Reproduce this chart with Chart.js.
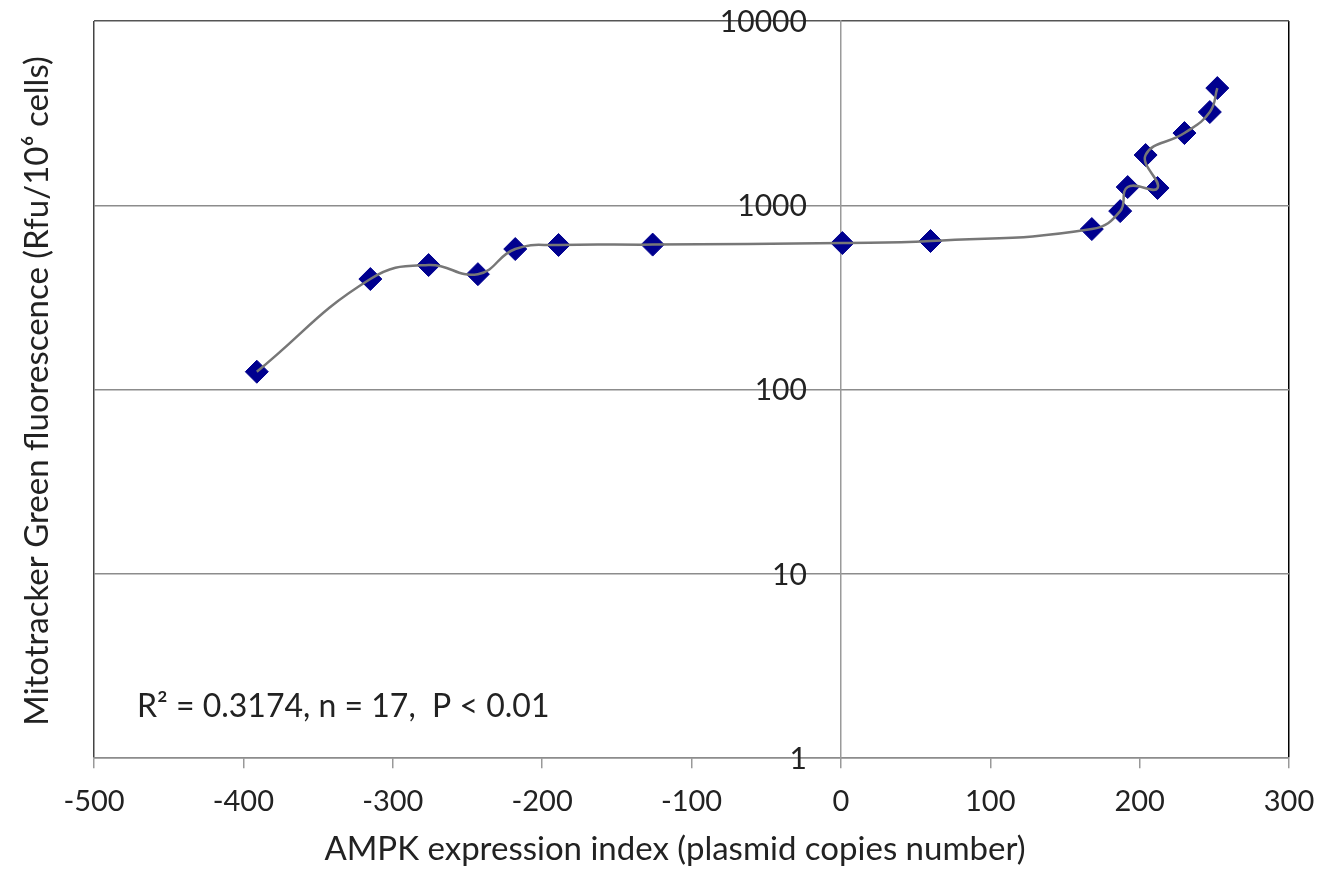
<!DOCTYPE html>
<html lang="en">
<head>
  <meta charset="UTF-8" />
  <title>Mitotracker Green vs AMPK expression</title>
  <script src="https://cdn.jsdelivr.net/npm/chart.js"></script>
  <style>
    html, body { margin: 0; padding: 0; background: #fff; }
    #wrap { width: 1327px; height: 873px; }
  </style>
</head>
<body>
  <div id="wrap"><canvas id="chart" width="1327" height="873"></canvas></div>

  <script>
    // AMPK expression index (plasmid copies number), in the order the curve runs
    const ampkIndex = [-391, -315, -276, -243, -218, -189, -126, 1, 60, 168, 187, 192, 212, 204, 230, 247, 252];
    // Mitotracker Green fluorescence (Rfu/10^6 cells)
    const fluorescence = [125, 398, 474, 423, 579, 609, 612, 624, 640, 743, 930, 1256, 1241, 1874, 2466, 3207, 4326];

    const xTicks = [-500, -400, -300, -200, -100, 0, 100, 200, 300];
    const yTicks = [1, 10, 100, 1000, 10000];

    const xTitle = 'AMPK expression index (plasmid copies number)';
    const yTitle = 'Mitotracker Green fluorescence (Rfu/10\u2076 cells)';
    const statText = 'R\u00b2 = 0.3174, n = 17,  P < 0.01';

    const FONT = 'Lato, "Open Sans", sans-serif';
    const TEXT = '#222';

    const points = ampkIndex.map((x, i) => ({ x: x, y: fluorescence[i] }));

    // y tick labels (sit left of the x = 0 axis), axis titles, stats line
    const extraText = {
      id: 'extraText',
      afterDraw(chart) {
        const c = chart.ctx;
        const area = chart.chartArea;
        const xs = chart.scales.x;
        const ys = chart.scales.y;

        c.save();
        c.fillStyle = TEXT;
        c.font = '30px ' + FONT;
        c.textAlign = 'right';
        c.textBaseline = 'middle';
        const axisX = xs.getPixelForValue(0);
        yTicks.forEach(v => c.fillText(String(v), axisX - 34, ys.getPixelForValue(v) + 1));
        c.restore();

        c.save();
        c.fillStyle = TEXT;
        c.font = '33px ' + FONT;
        c.textAlign = 'center';
        c.textBaseline = 'alphabetic';
        c.fillText(xTitle, 675, 860);
        c.restore();

        c.save();
        c.fillStyle = TEXT;
        c.font = '33px ' + FONT;
        c.textAlign = 'center';
        c.textBaseline = 'middle';
        c.translate(37, 391);
        c.rotate(-Math.PI / 2);
        c.fillText(yTitle, 0, 0);
        c.restore();

        c.save();
        c.fillStyle = TEXT;
        c.font = '32px ' + FONT;
        c.textAlign = 'left';
        c.textBaseline = 'alphabetic';
        c.fillText(statText, area.left + 43, area.bottom - 41);
        c.restore();
      }
    };

    const ctx = document.getElementById('chart').getContext('2d');
    new Chart(ctx, {
      type: 'scatter',
      data: {
        datasets: [
          {
            label: 'curve',
            data: points,
            showLine: true,
            borderColor: '#777777',
            borderWidth: 2.5,
            tension: 0.45,
            pointRadius: 0,
            order: 0
          },
          {
            label: 'samples',
            data: points,
            showLine: false,
            pointStyle: 'rectRot',
            pointRadius: 11.5,
            backgroundColor: '#00008f',
            borderColor: '#00008f',
            borderWidth: 1,
            order: 1
          }
        ]
      },
      options: {
        responsive: false,
        animation: false,
        layout: { padding: { left: 94, right: 38, top: 21, bottom: 38 } },
        plugins: {
          legend: { display: false },
          tooltip: { enabled: false }
        },
        scales: {
          x: {
            type: 'linear',
            min: -500,
            max: 300,
            afterBuildTicks: (s) => { s.ticks = xTicks.map(v => ({ value: v })); },
            afterFit: (s) => { s.paddingLeft = 0; s.paddingRight = 0; },
            grid: {
              drawOnChartArea: true,
              color: (c) => c.tick && c.tick.value === -500 ? '#444' : (c.tick && c.tick.value === 300 ? '#000' : 'rgba(0,0,0,0)'),
              lineWidth: 1.5,
              tickColor: '#999',
              tickLength: 10
            },
            border: { display: true, color: '#8c8c8c', width: 1.5 },
            ticks: {
              color: TEXT,
              font: { family: FONT, size: 29 },
              padding: 16
            }
          },
          y: {
            type: 'logarithmic',
            position: { x: 0 },
            min: 1,
            max: 10000,
            afterBuildTicks: (s) => { s.ticks = yTicks.map(v => ({ value: v })); },
            afterFit: (s) => { s.paddingTop = 0; s.paddingBottom = 0; },
            grid: {
              color: (c) => c.tick && c.tick.value === 10000 ? '#555' : '#8c8c8c',
              lineWidth: 1.5,
              drawTicks: false
            },
            border: { display: true, color: '#9a9a9a', width: 1.5 },
            ticks: { display: false }
          }
        }
      },
      plugins: [extraText]
    });
  </script>
</body>
</html>
